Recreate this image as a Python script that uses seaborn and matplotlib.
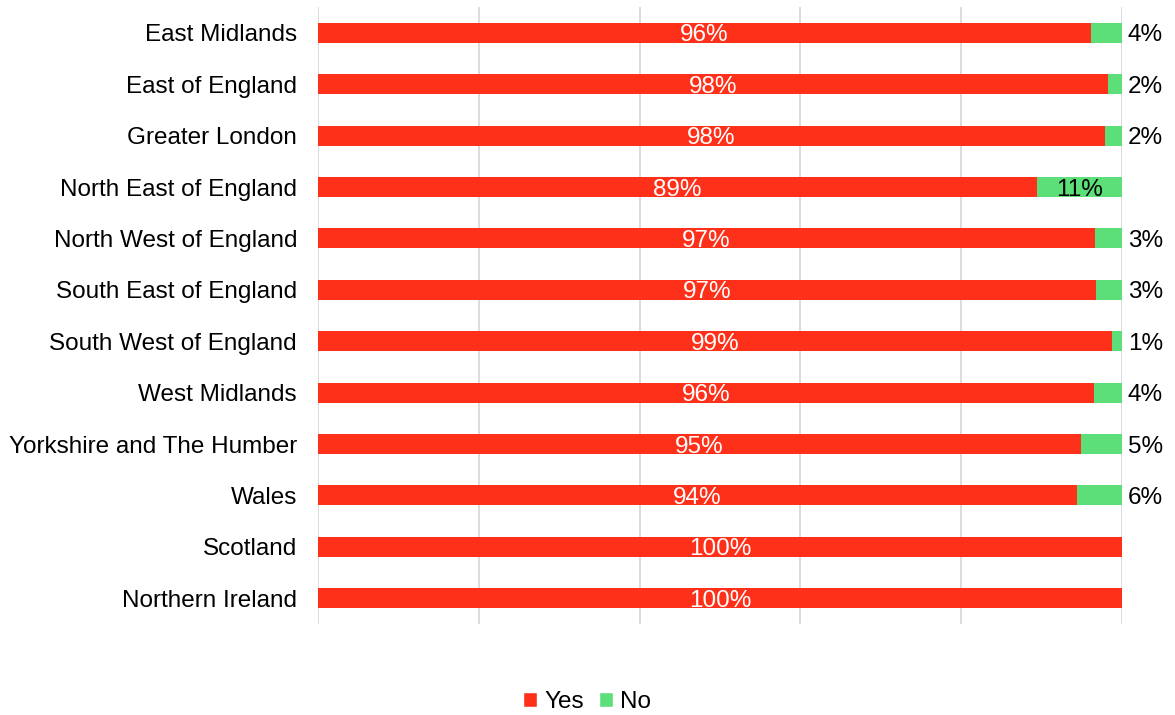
import matplotlib
matplotlib.use("Agg")
import matplotlib.pyplot as plt
import seaborn as sns
import pandas as pd
from matplotlib.patches import Patch

regions = ["East Midlands", "East of England", "Greater London", "North East of England",
           "North West of England", "South East of England", "South West of England",
           "West Midlands", "Yorkshire and The Humber", "Wales", "Scotland", "Northern Ireland"]
yes_share = [0.961, 0.983, 0.979, 0.894, 0.966, 0.968, 0.988, 0.965, 0.949, 0.944, 1.0, 1.0]
no_share = [0.039, 0.017, 0.021, 0.106, 0.034, 0.032, 0.012, 0.035, 0.051, 0.056, 0.0, 0.0]
yes_labels = ["96%", "98%", "98%", "89%", "97%", "97%", "99%", "96%", "95%", "94%", "100%", "100%"]
no_labels = ["4%", "2%", "2%", "11%", "3%", "3%", "1%", "4%", "5%", "6%", "", ""]

RED = "#FF3019"
GREEN = "#5CDF78"
FS = 17.5

sns.set_theme(style="white")
plt.rcParams["font.family"] = ["Liberation Sans", "DejaVu Sans"]
plt.rcParams["text.color"] = "black"

df = pd.DataFrame({"region": regions, "yes": yes_share, "no": no_share})
df["total"] = df["yes"] + df["no"]

fig = plt.figure(figsize=(11.75, 7.15), dpi=100)
ax = fig.add_axes([0.2706, 0.1273, 0.9549 - 0.2706, 0.990 - 0.1273])

for g in [0, 0.2, 0.4, 0.6, 0.8, 1.0]:
    ax.axvline(g, color="#D9D9D9", lw=1.3, zorder=0)

sns.barplot(data=df, x="total", y="region", color=GREEN, width=0.39, ax=ax,
            saturation=1, zorder=2, linewidth=0)
sns.barplot(data=df, x="yes", y="region", color=RED, width=0.39, ax=ax,
            saturation=1, zorder=3, linewidth=0)

for i, (y, n, yl, nl) in enumerate(zip(yes_share, no_share, yes_labels, no_labels)):
    ax.text(y / 2, i, yl, color="white", fontsize=FS, ha="center", va="center_baseline", zorder=5)
    if nl:
        if n > 0.08:
            ax.text(y + n / 2, i, nl, color="black", fontsize=FS, ha="center", va="center_baseline", zorder=5)
        else:
            ax.text(1.007, i, nl, color="black", fontsize=FS, ha="left", va="center_baseline", zorder=5)

ax.set_xlim(0, 1.0)
ax.set_ylim(len(regions) - 0.5, -0.5)
ax.set_xlabel("")
ax.set_ylabel("")
ax.set_xticks([])
ax.tick_params(axis="y", length=0, pad=15, labelsize=FS, labelcolor="black")
for s in ax.spines.values():
    s.set_visible(False)

handles = [Patch(facecolor=RED, label="Yes"), Patch(facecolor=GREEN, label="No")]
fig.legend(handles=handles, loc="center", bbox_to_anchor=(587 / 1175, 1 - 702 / 715), ncol=2,
           frameon=False, fontsize=FS, handlelength=0.6, handleheight=0.6,
           handletextpad=0.3, columnspacing=0.6, labelcolor="black")

fig.savefig("out.png", dpi=100)
